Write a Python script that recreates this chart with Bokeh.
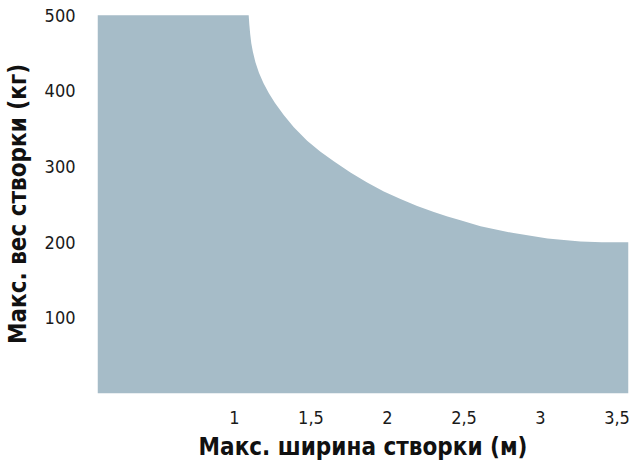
from bokeh.plotting import figure
from bokeh.models import Range1d, FixedTicker
from bokeh.embed import file_html
from bokeh.resources import INLINE

# Curve: max leaf weight (kg) vs. max leaf width (m)
width_m = [0.105, 1.093, 1.097, 1.103, 1.110, 1.120, 1.137, 1.160, 1.190, 1.225,
           1.265, 1.322, 1.388, 1.475, 1.560, 1.649, 1.758, 1.867, 1.976, 2.085,
           2.194, 2.303, 2.392, 2.477, 2.608, 2.824, 3.046, 3.261, 3.400, 3.575]
weight_kg = [500, 500, 488, 475, 463, 452, 438, 424, 410, 397,
             384, 368, 352, 334, 320, 307, 292, 279, 267, 257,
             248, 240, 234, 229, 221, 212, 205, 201, 200, 200]

x_ticks = [1, 1.5, 2, 2.5, 3, 3.5]
x_tick_labels = ["1", "1,5", "2", "2,5", "3", "3,5"]
y_ticks = [100, 200, 300, 400, 500]

FONT = "'DejaVu Sans Condensed', 'Roboto', sans-serif"

p = figure(width=632, height=463, output_backend="svg", toolbar_location=None,
           x_range=Range1d(0.105, 3.575), y_range=Range1d(0, 501),
           min_border_left=97, min_border_right=4, min_border_top=14,
           min_border_bottom=69)
p.outline_line_color = None
p.grid.visible = False
p.background_fill_color = "white"

p.varea(x=width_m, y1=[0] * len(width_m), y2=weight_kg, fill_color="#a6bcc8")

for ax in (p.xaxis[0], p.yaxis[0]):
    ax.axis_line_color = None
    ax.major_tick_line_color = None
    ax.minor_tick_line_color = None
    ax.major_label_text_font = FONT
    ax.major_label_text_color = "#1a1a1a"
    ax.axis_label_text_font = FONT
    ax.axis_label_text_font_style = "bold"
    ax.axis_label_text_color = "#111111"
    ax.axis_label_text_font_size = "24px"

p.xaxis.ticker = FixedTicker(ticks=x_ticks)
p.xaxis.major_label_overrides = {t: l for t, l in zip(x_ticks, x_tick_labels)}
p.xaxis.major_label_text_font_size = "18px"
p.xaxis.major_label_standoff = 11
p.xaxis.axis_label = "Макс. ширина створки (м)"
p.xaxis.axis_label_standoff = 6

p.yaxis.ticker = FixedTicker(ticks=y_ticks)
p.yaxis.major_label_text_font_size = "18px"
p.yaxis.major_label_standoff = 16
p.yaxis.axis_label = "Макс. вес створки (кг)"
p.yaxis.axis_label_standoff = 10

open("out.html", "w").write(file_html(p, INLINE))
